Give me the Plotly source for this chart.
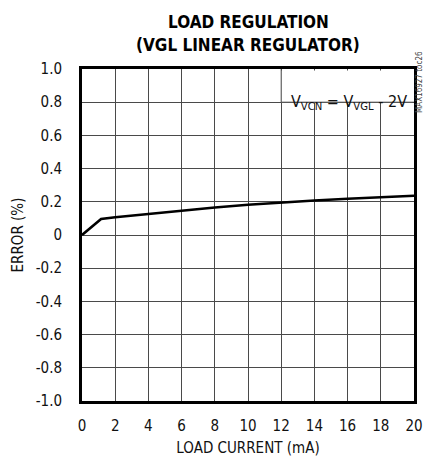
import plotly.graph_objects as go

load_current = [0, 1.15, 2, 4, 6, 8, 10, 12, 14, 16, 18, 20]
error_pct = [0, 0.097, 0.107, 0.128, 0.148, 0.166, 0.182, 0.196, 0.208, 0.218, 0.228, 0.236]

x_ticks = [0, 2, 4, 6, 8, 10, 12, 14, 16, 18, 20]
y_ticks = [-1.0, -0.8, -0.6, -0.4, -0.2, 0, 0.2, 0.4, 0.6, 0.8, 1.0]
y_tick_labels = ["-1.0", "-0.8", "-0.6", "-0.4", "-0.2", "0", "0.2", "0.4", "0.6", "0.8", "1.0"]

FONT = "DejaVu Sans Condensed, Liberation Sans, sans-serif"
GRID = "#4a4a4a"

fig = go.Figure()
fig.add_trace(go.Scatter(x=load_current, y=error_pct, mode="lines",
                         line=dict(color="black", width=2.6), showlegend=False,
                         hoverinfo="skip"))

fig.update_layout(
    width=424, height=464,
    margin=dict(l=82, r=10, t=69, b=63),
    paper_bgcolor="white", plot_bgcolor="white",
    font=dict(family=FONT, size=15, color="#111"),
    xaxis=dict(range=[0, 20], tickvals=x_ticks, showgrid=True, gridcolor=GRID, gridwidth=1,
               showline=True, linecolor="black", linewidth=3, mirror=True,
               ticks="", ticklen=0, zeroline=False, automargin=False,
               ticklabelstandoff=9,
               title=dict(text="LOAD CURRENT (mA)", standoff=9, font=dict(size=15))),
    yaxis=dict(range=[-1.0, 1.0], tickvals=y_ticks, ticktext=y_tick_labels,
               showgrid=True, gridcolor=GRID, gridwidth=1,
               showline=True, linecolor="black", linewidth=3, mirror=True,
               ticks="", zeroline=False, ticklabelstandoff=14, automargin=False,
               title=dict(text="ERROR (%)", standoff=9, font=dict(size=15))),
)

# white condition box in the top-right grid cells
fig.add_shape(type="rect", xref="x", yref="y", x0=12, x1=19.91, y0=0.8, y1=0.991,
              fillcolor="white", line=dict(width=0), layer="above")
fig.add_shape(type="line", xref="x", yref="y", x0=12, x1=20, y0=0.8, y1=0.8,
              line=dict(color=GRID, width=1), layer="above")
fig.add_shape(type="line", xref="x", yref="y", x0=12, x1=12, y0=0.8, y1=1.0,
              line=dict(color=GRID, width=1), layer="above")

fig.add_annotation(x=0.985, y=0.9, xref="paper", yref="paper", xanchor="right", yanchor="middle",
                   text="V<sub>VCN</sub> = V<sub>VGL</sub> - 2V", showarrow=False,
                   font=dict(family=FONT, size=16, color="#111"))

fig.add_annotation(x=0.5, y=1, xref="paper", yref="paper", yshift=47, yanchor="middle",
                   text="<b>LOAD REGULATION</b>", showarrow=False,
                   font=dict(family=FONT, size=17, color="black"))
fig.add_annotation(x=0.5, y=1, xref="paper", yref="paper", yshift=24, yanchor="middle",
                   text="<b>(VGL LINEAR REGULATOR)</b>", showarrow=False,
                   font=dict(family=FONT, size=17, color="black"))

fig.add_annotation(x=1, y=1, xref="paper", yref="paper", xshift=5, yshift=-13,
                   xanchor="center", yanchor="middle", textangle=-90,
                   text="MAX16927 toc26", showarrow=False,
                   font=dict(family=FONT, size=8, color="#444"))

fig.write_html("out.html", config={"displayModeBar": False},
               post_script="document.body.style.margin='0';document.body.style.overflow='hidden';")
